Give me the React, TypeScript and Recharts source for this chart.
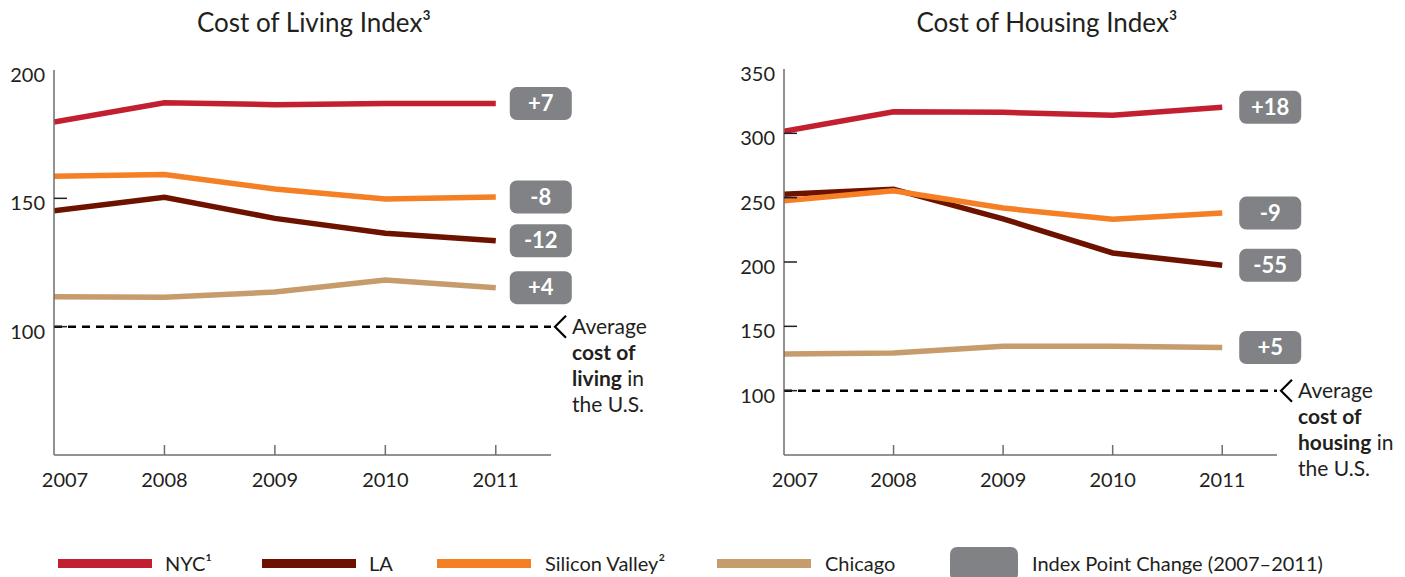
import React from "react";
import { LineChart, Line, XAxis, YAxis, ReferenceLine } from "recharts";

const years = [2007, 2008, 2009, 2010, 2011];

// Cost of Living Index
const livingNyc = [179.7, 187.2, 186.5, 186.9, 186.9];
const livingLa = [145.2, 150.4, 142.2, 136.4, 133.5];
const livingSv = [158.6, 159.3, 153.6, 149.7, 150.5];
const livingChicago = [111.7, 111.5, 113.5, 118.2, 115.2];
const livingChange = { nyc: "+7", la: "-12", sv: "-8", chicago: "+4" };
const livingTicks = [100, 150, 200];

// Cost of Housing Index
const housingNyc = [301.6, 316.8, 316.3, 314, 320.2];
const housingLa = [252.7, 256.6, 233.6, 207, 197.4];
const housingSv = [247.6, 255.3, 241.9, 233.3, 238];
const housingChicago = [128.4, 129.2, 134.6, 134.6, 133.6];
const housingChange = { nyc: "+18", la: "-55", sv: "-9", chicago: "+5" };
const housingTicks = [100, 150, 200, 250, 300, 350];

const FONT = "Lato, 'Open Sans', sans-serif";
const INK = "#231f20";
const AXIS = "#6d6e71";
const BADGE = "#808285";

const series = [
  { key: "chicago", name: "Chicago", color: "#c69c6d" },
  { key: "la", name: "LA", color: "#6e1200" },
  { key: "sv", name: "Silicon Valley²", color: "#f47f24" },
  { key: "nyc", name: "NYC¹", color: "#c21f30" },
];

const legendOrder = ["nyc", "la", "sv", "chicago"];

type Key = "nyc" | "la" | "sv" | "chicago";

function makeRows(nyc: number[], la: number[], sv: number[], chicago: number[]) {
  return years.map((year, i) => ({ year, nyc: nyc[i], la: la[i], sv: sv[i], chicago: chicago[i] }));
}

const livingRows = makeRows(livingNyc, livingLa, livingSv, livingChicago);
const housingRows = makeRows(housingNyc, housingLa, housingSv, housingChicago);

const XTick = (props: any) => {
  const { x, y, payload, index } = props;
  return (
    <g>
      {index > 0 && <line x1={x} y1={y} x2={x} y2={y - 10} stroke={AXIS} strokeWidth={1.5} />}
      <text x={x + (index === 0 ? 11 : 0)} y={y + 32} textAnchor="middle" fontSize={20} fill={INK} fontFamily={FONT}>
        {payload.value}
      </text>
    </g>
  );
};

const makeYTick = (max: number) => (props: any) => {
  const { x, y, payload } = props;
  return (
    <g>
      {payload.value !== max && <line x1={x} y1={y} x2={x + 13} y2={y} stroke={INK} strokeWidth={1.5} />}
      <text x={x - 9} y={y + 12} textAnchor="end" fontSize={20} fill={INK} fontFamily={FONT}>
        {payload.value}
      </text>
    </g>
  );
};

const makeBadge = (text: string, dx: number) => (props: any) => {
  const { x, y, index } = props;
  if (index !== years.length - 1) return <g key={index} />;
  const w = 62;
  const h = 33;
  return (
    <g key={index}>
      <rect x={x + dx} y={y - h / 2} width={w} height={h} rx={7} fill={BADGE} />
      <text
        x={x + dx + w / 2}
        y={y + 7.5}
        textAnchor="middle"
        fontSize={22}
        fontWeight={700}
        fill="#ffffff"
        fontFamily={FONT}
      >
        {text}
      </text>
    </g>
  );
};

const makeNote = (word: string) => (props: any) => {
  const vb = props.viewBox || {};
  const tip = vb.x + vb.width + 4;
  const y = vb.y;
  const tx = tip + 17;
  return (
    <g>
      <polyline points={`${tip + 11},${y - 11} ${tip},${y} ${tip + 11},${y + 11}`} fill="none" stroke="#000" strokeWidth={2.2} />
      <text x={tx} y={y + 7} fontSize={21} fill={INK} fontFamily={FONT}>
        Average
      </text>
      <text x={tx} y={y + 33} fontSize={21} fill={INK} fontFamily={FONT} fontWeight={700}>
        cost of
      </text>
      <text x={tx} y={y + 59} fontSize={21} fill={INK} fontFamily={FONT}>
        <tspan fontWeight={700}>{word}</tspan> in
      </text>
      <text x={tx} y={y + 85} fontSize={21} fill={INK} fontFamily={FONT}>
        the U.S.
      </text>
    </g>
  );
};

type PanelProps = {
  rows: any[];
  domain: [number, number];
  ticks: number[];
  change: Record<Key, string>;
  word: string;
  width: number;
  margin: { top: number; right: number; bottom: number; left: number };
  badgeDx: number;
};

function Panel({ rows, domain, ticks, change, word, width, margin, badgeDx }: PanelProps) {
  return (
    <LineChart width={width} height={577} data={rows} margin={margin} style={{ overflow: "visible" }}>
      <XAxis
        dataKey="year"
        type="number"
        domain={[2007, 2011.5]}
        ticks={years}
        height={1}
        tickSize={0}
        tickMargin={0}
        tick={<XTick />}
        axisLine={{ stroke: AXIS, strokeWidth: 1.5 }}
        tickLine={false}
        allowDataOverflow
        interval={0}
      />
      <YAxis
        type="number"
        domain={domain}
        ticks={ticks}
        width={1}
        tickSize={0}
        tickMargin={0}
        tick={makeYTick(domain[1])}
        axisLine={{ stroke: AXIS, strokeWidth: 1.5 }}
        tickLine={false}
        allowDataOverflow
        interval={0}
      />
      <ReferenceLine
        y={100}
        stroke="#000"
        strokeWidth={2.5}
        strokeDasharray="8 6"
        ifOverflow="visible"
        label={makeNote(word)}
      />
      {series.map((s) => (
        <Line
          key={s.key}
          dataKey={s.key}
          type="linear"
          stroke={s.color}
          strokeWidth={5.5}
          dot={false}
          activeDot={false}
          isAnimationActive={false}
          label={makeBadge(change[s.key as Key], badgeDx)}
        />
      ))}
    </LineChart>
  );
}

const titleStyle: React.CSSProperties = {
  position: "absolute",
  top: 6,
  fontFamily: FONT,
  fontSize: 26,
  fontWeight: 400,
  color: INK,
  whiteSpace: "nowrap",
  transform: "translateX(-50%)",
};

const legendPos: Record<string, { sw: number; tx: number }> = {
  nyc: { sw: 58, tx: 165 },
  la: { sw: 262, tx: 369 },
  sv: { sw: 437, tx: 545 },
  chicago: { sw: 717, tx: 825 },
};

export default function App() {
  return (
    <div style={{ position: "absolute", left: 0, top: 0, width: 1405, height: 577, overflow: "hidden", background: "#fff", fontFamily: FONT }}>
      <div style={{ ...titleStyle, left: 314 }}>Cost of Living Index³</div>
      <div style={{ ...titleStyle, left: 1047 }}>Cost of Housing Index³</div>

      <div style={{ position: "absolute", left: 0, top: 0 }}>
        <Panel
          rows={livingRows}
          domain={[50, 200]}
          ticks={livingTicks}
          change={livingChange}
          word="living"
          width={720}
          margin={{ top: 70, right: 169, bottom: 121, left: 53 }}
          badgeDx={14}
        />
      </div>
      <div style={{ position: "absolute", left: 720, top: 0 }}>
        <Panel
          rows={housingRows}
          domain={[50, 350]}
          ticks={housingTicks}
          change={housingChange}
          word="housing"
          width={685}
          margin={{ top: 69, right: 128, bottom: 121, left: 63 }}
          badgeDx={17}
        />
      </div>

      {legendOrder.map((k) => {
        const s = series.find((d) => d.key === k)!;
        const p = legendPos[k];
        return (
          <React.Fragment key={k}>
            <div style={{ position: "absolute", left: p.sw, top: 559, width: 94, height: 9, background: s.color }} />
            <div style={{ position: "absolute", left: p.tx, top: 551, fontSize: 20, color: INK, whiteSpace: "nowrap", lineHeight: "24px" }}>
              {s.name}
            </div>
          </React.Fragment>
        );
      })}
      <div style={{ position: "absolute", left: 950, top: 547, width: 68, height: 34, borderRadius: 7, background: BADGE }} />
      <div style={{ position: "absolute", left: 1032, top: 551, fontSize: 20, color: INK, whiteSpace: "nowrap", lineHeight: "24px" }}>
        Index Point Change (2007–2011)
      </div>
    </div>
  );
}
